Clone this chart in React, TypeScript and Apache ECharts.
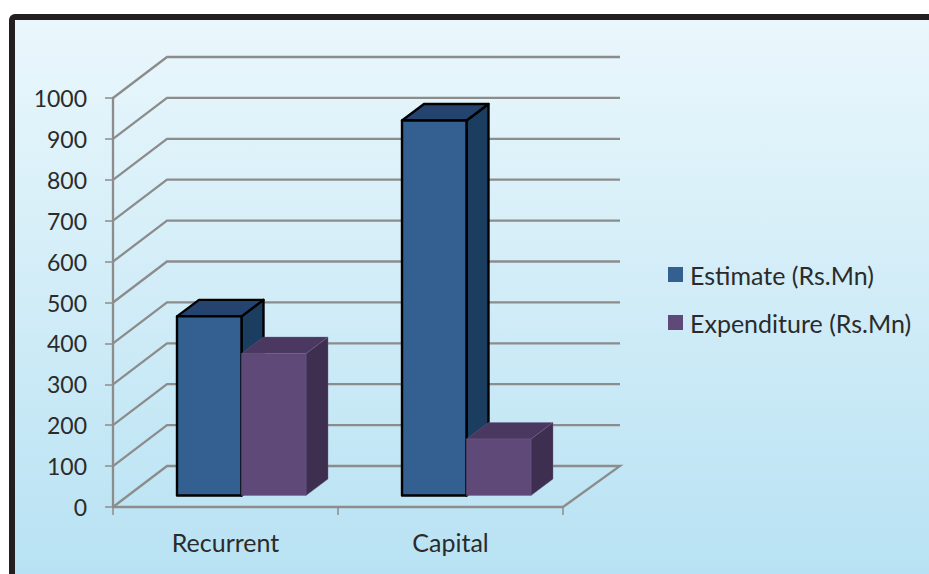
import React, { useEffect, useRef } from "react";
import * as echarts from "echarts";

const categories = ["Recurrent", "Capital"];
const estimate = [438, 917];
const expenditure = [347, 138];
const yTicks = [0, 100, 200, 300, 400, 500, 600, 700, 800, 900, 1000];
const seriesNames = ["Estimate (Rs.Mn)", "Expenditure (Rs.Mn)"];

const FONT = "Lato, 'Open Sans', sans-serif";
const TEXT = "#2b2b2b";
const GRID = "#8c8c8c";
const WALL_DX = 54;
const WALL_DY = -41;
const BAR_W = 64.5;
const FRONT_DX = 16;
const FRONT_DY = -11.5;
const DEPTH_DX = 22;
const DEPTH_DY = -16.5;

const faces = [
  { front: "#335f91", top: "#24446f", side: "#1b3d60", stroke: "#000000", lineWidth: 2.4 },
  { front: "#5e4978", top: "#4a3860", side: "#3e2e50", stroke: "#6f6390", lineWidth: 0.4 },
];

function barRenderer(slot: number) {
  const f = faces[slot];
  return (_p: any, api: any) => {
    const cat = api.value(0);
    const val = api.value(1);
    const top = api.coord([cat, val]);
    const base = api.coord([cat, 0]);
    const x0 = top[0] + FRONT_DX - BAR_W + slot * BAR_W;
    const x1 = x0 + BAR_W;
    const yt = top[1] + FRONT_DY;
    const yb = base[1] + FRONT_DY;
    const style = (fill: string) => ({
      fill,
      stroke: f.stroke,
      lineWidth: f.lineWidth,
      lineJoin: "round",
    });
    return {
      type: "group",
      children: [
        {
          type: "polygon",
          shape: {
            points: [
              [x1, yt],
              [x1 + DEPTH_DX, yt + DEPTH_DY],
              [x1 + DEPTH_DX, yb + DEPTH_DY],
              [x1, yb],
            ],
          },
          style: style(f.side),
        },
        {
          type: "polygon",
          shape: {
            points: [
              [x0, yt],
              [x0 + DEPTH_DX, yt + DEPTH_DY],
              [x1 + DEPTH_DX, yt + DEPTH_DY],
              [x1, yt],
            ],
          },
          style: style(f.top),
        },
        {
          type: "polygon",
          shape: {
            points: [
              [x0, yt],
              [x1, yt],
              [x1, yb],
              [x0, yb],
            ],
          },
          style: style(f.front),
        },
      ],
    };
  };
}

function wallRenderer(_p: any, api: any) {
  const v = api.value(1);
  const pt = api.coord([0, v]);
  const left = pt[0] - api.size([1, 0])[0] / 2;
  const right = left + api.size([1, 0])[0] * categories.length;
  const y = pt[1];
  const points: number[][] = [
    [left, y],
    [left + WALL_DX, y + WALL_DY],
    [right + WALL_DX + 3, y + WALL_DY],
  ];
  if (v === 0) points.push([right, y]);
  return {
    type: "polyline",
    shape: { points },
    style: { fill: "none", stroke: GRID, lineWidth: 2.3 },
  };
}

export default function App() {
  const ref = useRef<HTMLDivElement>(null);
  useEffect(() => {
    if (!ref.current) return;
    const chart = echarts.init(ref.current, undefined, { renderer: "svg" });
    chart.setOption({
      animation: false,
      backgroundColor: "#ffffff",
      graphic: [
        {
          type: "rect",
          z: -1,
          silent: true,
          shape: { x: 12, y: 17, width: 1000, height: 640, r: 3 },
          style: {
            fill: new echarts.graphic.LinearGradient(0, 0, 0, 1, [
              { offset: 0, color: "#eaf7fc" },
              { offset: 0.87, color: "#b8e2f3" },
              { offset: 1, color: "#b8e2f3" },
            ]),
            stroke: "#231f20",
            lineWidth: 6,
          },
        },
      ],
      legend: {
        data: seriesNames,
        orient: "vertical",
        left: 668,
        top: 262,
        icon: "rect",
        itemWidth: 15,
        itemHeight: 15,
        itemGap: 23,
        textStyle: { fontFamily: FONT, fontSize: 25, color: TEXT, padding: [0, 0, 0, 2] },
        padding: 0,
      },
      grid: { left: 113, right: 366, top: 98, bottom: 67 },
      xAxis: {
        type: "category",
        data: categories,
        axisLine: { lineStyle: { color: GRID, width: 2.3 } },
        axisTick: { show: true, length: 8, lineStyle: { color: GRID, width: 1.5 } },
        axisLabel: { fontFamily: FONT, fontSize: 25, color: TEXT, margin: 22 },
      },
      yAxis: {
        type: "value",
        min: 0,
        max: 1000,
        interval: 100,
        splitLine: { show: false },
        axisLine: { show: true, lineStyle: { color: GRID, width: 2.3 } },
        axisTick: { show: true, length: 8, lineStyle: { color: GRID, width: 1.5 } },
        axisLabel: {
          fontFamily: FONT,
          fontSize: 23,
          color: TEXT,
          margin: 26,
          formatter: (v: number) => String(v),
        },
      },
      series: [
        {
          type: "custom",
          name: "walls",
          silent: true,
          z: 1,
          renderItem: wallRenderer,
          data: yTicks.map((v) => [0, v]),
          encode: { x: 0, y: 1 },
          clip: false,
        },
        {
          type: "custom",
          name: seriesNames[0],
          z: 3,
          itemStyle: { color: faces[0].front },
          renderItem: barRenderer(0),
          data: estimate.map((v, i) => [i, v]),
          encode: { x: 0, y: 1 },
          clip: false,
        },
        {
          type: "custom",
          name: seriesNames[1],
          z: 4,
          itemStyle: { color: faces[1].front },
          renderItem: barRenderer(1),
          data: expenditure.map((v, i) => [i, v]),
          encode: { x: 0, y: 1 },
          clip: false,
        },
      ],
    });
    return () => chart.dispose();
  }, []);
  return <div ref={ref} style={{ position: "fixed", left: 0, top: 0, width: 929, height: 574 }} />;
}
